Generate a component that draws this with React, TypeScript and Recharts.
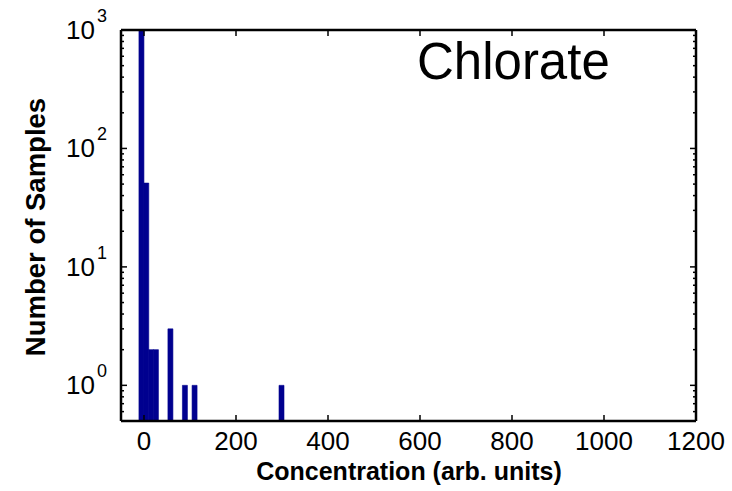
import { BarChart, Bar, XAxis, YAxis } from "recharts";

// histogram bins (centre of each non-empty bin) and their counts
const BIN_CENTERS = [-5.75, 4.75, 15.25, 25.75, 57.25, 88.75, 109.75, 298.75];
const COUNTS = [980, 51, 2, 2, 3, 1, 1, 1];

const X_TICKS = [0, 200, 400, 600, 800, 1000, 1200];
const Y_MAJOR = [1, 10, 100, 1000];
const Y_MINOR = [
  0.6, 0.7, 0.8, 0.9,
  2, 3, 4, 5, 6, 7, 8, 9,
  20, 30, 40, 50, 60, 70, 80, 90,
  200, 300, 400, 500, 600, 700, 800, 900,
];

const W = 732;
const H = 491;
const LEFT = 121;
const RIGHT = 696;
const TOP = 30;
const BOTTOM = 421;
const AX = 10; // space each axis reserves
const FONT = "'Liberation Sans', Arial, Helvetica, sans-serif";
const BAR_COLOR = "#00008F";

const data = BIN_CENTERS.map((x, i) => ({ x, count: COUNTS[i] }));
const yTicks = [...Y_MAJOR, ...Y_MINOR].sort((a, b) => a - b);

const LeftTick = (props: any) => {
  const { y, payload } = props;
  const major = Y_MAJOR.includes(payload.value);
  const exp = Math.round(Math.log10(payload.value));
  return (
    <g>
      <line x1={LEFT} x2={LEFT + (major ? 6 : 3)} y1={y} y2={y} stroke="#000" strokeWidth={1.5} />
      {major && (
        <g fontFamily={FONT} fill="#000">
          <text x={95} y={y + 9} fontSize={26} textAnchor="end">
            10
          </text>
          <text x={97} y={y - 8} fontSize={18}>
            {exp}
          </text>
        </g>
      )}
    </g>
  );
};

const RightTick = (props: any) => {
  const { y, payload } = props;
  const major = Y_MAJOR.includes(payload.value);
  return <line x1={RIGHT} x2={RIGHT - (major ? 6 : 3)} y1={y} y2={y} stroke="#000" strokeWidth={1.5} />;
};

const BottomTick = (props: any) => {
  const { x, payload } = props;
  return (
    <g>
      <line x1={x} x2={x} y1={BOTTOM} y2={BOTTOM - 6} stroke="#000" strokeWidth={1.5} />
      <text x={x} y={450} fontSize={26} fontFamily={FONT} textAnchor="middle" fill="#000">
        {payload.value}
      </text>
    </g>
  );
};

const TopTick = (props: any) => {
  const { x } = props;
  return <line x1={x} x2={x} y1={TOP} y2={TOP + 6} stroke="#000" strokeWidth={1.5} />;
};

const axisLine = { stroke: "#000", strokeWidth: 2.5 };

export default function App() {
  return (
    <div style={{ position: "absolute", left: 0, top: 0, width: W, height: H, background: "#fff" }}>
      <BarChart
        width={W}
        height={H}
        data={data}
        margin={{ top: TOP - AX, right: W - RIGHT - AX, left: LEFT - AX, bottom: H - BOTTOM - AX }}
        barCategoryGap={0}
        barGap={0}
      >
        <XAxis
          dataKey="x"
          type="number"
          domain={[-50, 1200]}
          allowDataOverflow
          ticks={X_TICKS}
          interval={0}
          height={AX}
          axisLine={axisLine}
          tickLine={false}
          tick={BottomTick}
        />
        <XAxis
          xAxisId="top"
          orientation="top"
          dataKey="x"
          type="number"
          domain={[-50, 1200]}
          allowDataOverflow
          ticks={X_TICKS}
          interval={0}
          height={AX}
          axisLine={axisLine}
          tickLine={false}
          tick={TopTick}
        />
        <YAxis
          type="number"
          scale="log"
          domain={[0.5, 1000]}
          allowDataOverflow
          ticks={yTicks}
          interval={0}
          width={AX}
          axisLine={axisLine}
          tickLine={false}
          tick={LeftTick}
        />
        <YAxis
          yAxisId="right"
          orientation="right"
          type="number"
          scale="log"
          domain={[0.5, 1000]}
          allowDataOverflow
          ticks={yTicks}
          interval={0}
          width={AX}
          axisLine={axisLine}
          tickLine={false}
          tick={RightTick}
        />
        <Bar
          dataKey="count"
          fill={BAR_COLOR}
          stroke={BAR_COLOR}
          strokeWidth={0.6}
          isAnimationActive={false}
        />
        <text x={417} y={79} fontSize={51} fontFamily={FONT} fill="#000">
          Chlorate
        </text>
        <text
          x={409}
          y={480}
          fontSize={25}
          fontWeight="bold"
          fontFamily={FONT}
          textAnchor="middle"
          fill="#000"
        >
          Concentration (arb. units)
        </text>
        <text
          transform="translate(45, 227) rotate(-90)"
          fontSize={27.5}
          fontWeight="bold"
          fontFamily={FONT}
          textAnchor="middle"
          fill="#000"
        >
          Number of Samples
        </text>
      </BarChart>
    </div>
  );
}
